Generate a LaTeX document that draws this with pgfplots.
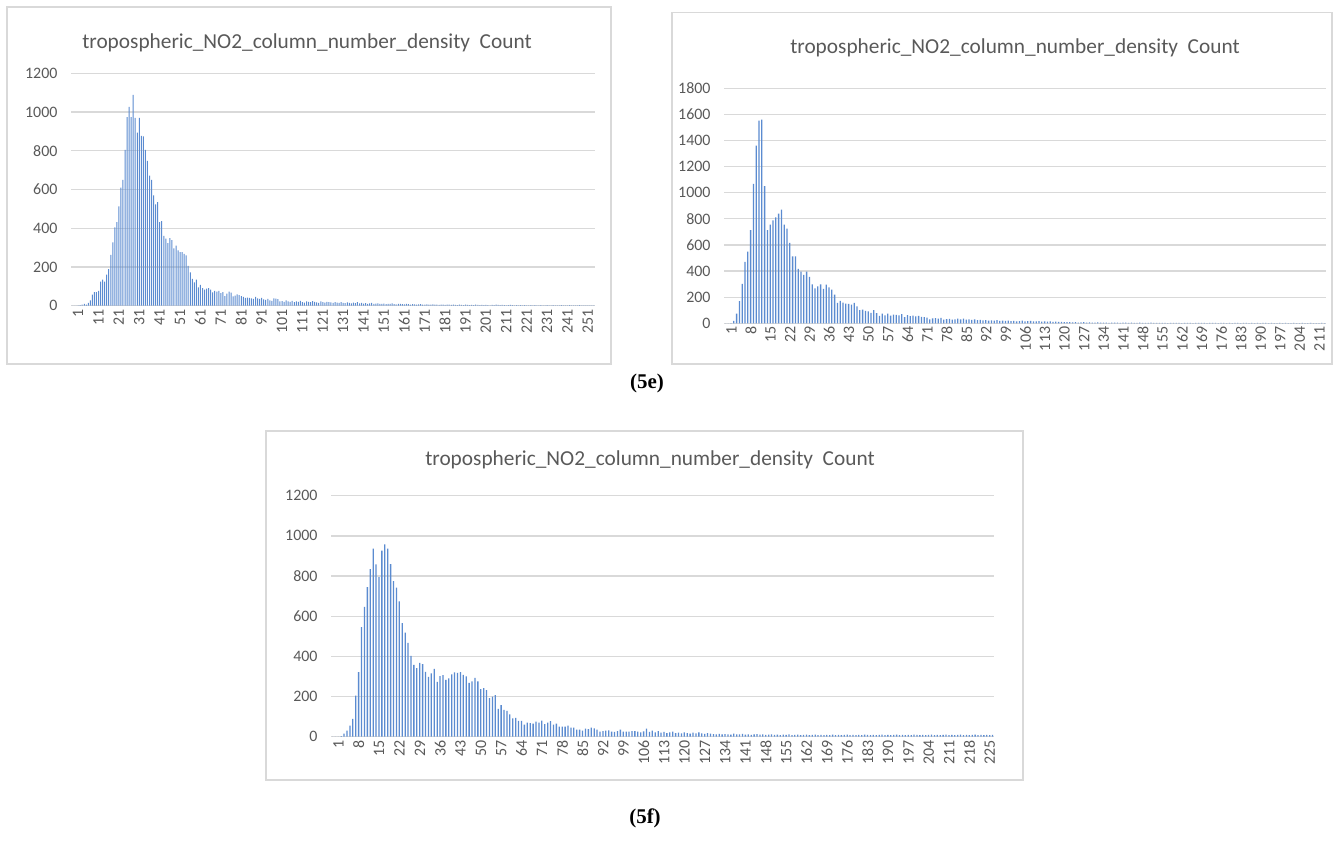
\documentclass[border=0pt]{standalone}
\usepackage{pgfplots}
\pgfplotsset{compat=1.18}
\usepackage{pgfplotstable}
\usepackage{fontspec}
\setmainfont{Carlito}
\newfontfamily\capfont{Liberation Serif}
\definecolor{txt}{HTML}{595959}
\definecolor{grd}{HTML}{D9D9D9}
\definecolor{barc}{HTML}{5B8BD0}

% Panel 1 (257 categories)
\pgfplotstableread[row sep=\\]{y\\
0\\0\\0\\2\\3\\5\\9\\5\\14\\27\\57\\70\\70\\77\\124\\134\\124\\160\\189\\263\\
327\\404\\432\\513\\609\\650\\805\\974\\1027\\974\\1089\\970\\893\\970\\877\\874\\805\\748\\672\\650\\
569\\523\\535\\432\\437\\361\\346\\323\\349\\339\\296\\310\\286\\277\\277\\267\\260\\206\\172\\139\\
120\\134\\95\\107\\91\\83\\88\\91\\83\\69\\77\\72\\77\\
65\\70\\50\\62\\72\\68\\48\\52\\58\\55\\50\\45\\40\\42\\40\\38\\35\\
46\\38\\35\\40\\32\\30\\35\\28\\25\\38\\36\\34\\22\\24\\20\\28\\22\\20\\25\\18\\
22\\20\\25\\18\\16\\22\\20\\18\\24\\20\\17\\15\\22\\19\\16\\20\\18\\17\\15\\19\\
16\\14\\18\\15\\13\\17\\14\\12\\16\\13\\18\\12\\14\\11\\13\\10\\12\\14\\9\\11\\
12\\10\\9\\11\\8\\10\\9\\12\\8\\7\\10\\9\\8\\7\\9\\8\\6\\8\\7\\6\\
7\\8\\6\\5\\7\\6\\5\\7\\6\\5\\4\\6\\5\\4\\5\\6\\4\\5\\4\\3\\
5\\4\\3\\5\\4\\3\\4\\3\\5\\4\\3\\4\\3\\4\\3\\2\\4\\3\\5\\4\\
3\\4\\3\\2\\3\\4\\3\\2\\3\\2\\3\\2\\3\\2\\2\\3\\2\\3\\2\\2\\
3\\2\\2\\3\\2\\2\\3\\2\\2\\2\\3\\2\\2\\2\\3\\2\\2\\2\\2\\3\\2\\2\\2\\2\\2\\2\\2\\
}\dataA

% Panel 2 (215 categories)
\pgfplotstableread[row sep=\\]{y\\
0\\0\\2\\18\\74\\169\\301\\470\\549\\713\\1068\\1361\\1553\\1560\\1050\\713\\756\\789\\812\\840\\
871\\756\\725\\615\\513\\513\\416\\396\\370\\396\\355\\299\\268\\283\\299\\263\\296\\276\\258\\220\\
156\\171\\158\\151\\148\\143\\156\\130\\100\\105\\95\\92\\79\\100\\77\\56\\74\\61\\74\\59\\
66\\64\\61\\
70\\48\\62\\55\\58\\52\\56\\50\\48\\44\\30\\38\\40\\36\\42\\28\\32\\
34\\28\\30\\35\\30\\36\\28\\30\\26\\30\\24\\26\\22\\25\\20\\23\\21\\24\\18\\20\\
18\\20\\16\\19\\15\\17\\20\\14\\16\\18\\14\\15\\17\\13\\14\\12\\15\\11\\13\\10\\
10\\9\\8\\9\\7\\8\\6\\7\\8\\6\\7\\5\\6\\7\\5\\6\\5\\4\\6\\5\\
5\\4\\6\\5\\4\\5\\4\\3\\5\\4\\3\\4\\5\\3\\4\\3\\4\\3\\2\\4\\
3\\4\\3\\2\\3\\4\\3\\2\\3\\4\\3\\3\\2\\3\\4\\3\\2\\3\\3\\2\\
3\\2\\3\\3\\2\\4\\3\\2\\3\\2\\3\\2\\3\\3\\2\\3\\2\\2\\3\\2\\
3\\2\\2\\3\\2\\2\\3\\2\\2\\3\\2\\2\\2\\3\\2\\
}\dataB

% Panel 3 (228 categories)
\pgfplotstableread[row sep=\\]{y\\
0\\0\\0\\3\\15\\30\\55\\89\\205\\321\\546\\647\\745\\834\\937\\858\\795\\927\\957\\937\\
859\\775\\742\\674\\565\\518\\467\\402\\358\\341\\368\\361\\323\\298\\315\\338\\273\\301\\306\\283\\
291\\310\\320\\318\\321\\308\\300\\268\\275\\293\\276\\237\\242\\232\\192\\199\\207\\139\\157\\134\\
129\\111\\91\\94\\79\\79\\60\\70\\
68\\65\\75\\70\\80\\62\\70\\78\\60\\65\\50\\50\\50\\55\\45\\45\\35\\35\\30\\40\\38\\45\\
42\\35\\25\\28\\30\\32\\25\\24\\28\\35\\25\\25\\25\\28\\28\\25\\22\\26\\40\\24\\
30\\22\\28\\20\\24\\18\\22\\25\\18\\20\\16\\22\\18\\15\\20\\17\\22\\16\\14\\18\\
15\\13\\12\\14\\11\\13\\12\\10\\15\\12\\11\\14\\10\\12\\9\\11\\13\\10\\12\\9\\
10\\11\\9\\10\\8\\10\\9\\11\\8\\9\\10\\8\\9\\10\\8\\9\\10\\8\\9\\8\\
9\\8\\10\\8\\9\\8\\9\\10\\8\\9\\8\\9\\8\\10\\9\\8\\9\\8\\9\\10\\
8\\9\\8\\9\\10\\8\\9\\8\\9\\8\\10\\9\\8\\9\\8\\9\\10\\8\\9\\8\\
9\\10\\8\\9\\8\\9\\10\\8\\9\\8\\9\\10\\8\\9\\8\\9\\8\\9\\
}\dataC

\pgfplotsset{hist/.style={
  scale only axis, anchor=south west,
  ybar, bar shift=0pt, ymin=0,
  axis line style={draw=none},
  ymajorgrids, grid style={grd, line width=1.3bp},
  major tick length=0pt,
  tick label style={font=\fontsize{16}{16}\selectfont, text=txt},
  xticklabel style={rotate=90, anchor=east, yshift=-6bp},
  yticklabel style={xshift=-10bp},
  /pgf/number format/assume math mode=true,
  /pgf/number format/1000 sep={},
}}

\begin{document}
\begin{tikzpicture}[x=1bp,y=1bp]
\useasboundingbox (0,0) rectangle (1343,850);
% chart frames
\draw[grd, line width=1.3bp] (7,486) rectangle (611,843);
\draw[grd, line width=1.3bp] (672,486) rectangle (1332,837.3);
\draw[grd, line width=1.3bp] (266,70) rectangle (1023,419);

% Panel 1
\begin{axis}[hist, at={(71bp,544.3bp)}, width=524bp, height=232.4bp,
  xmin=0.5, xmax=257.5, ymax=1200, ytick={0,200,...,1200},
  xtick={1,11,...,251}, bar width=1bp]
\addplot[fill=barc, draw=none] table[x expr=\coordindex+1, y=y] {\dataA};
\end{axis}
\node[text=txt, font=\fontsize{21.4}{22}\selectfont] at (307,807) {tropospheric\_NO2\_column\_number\_density\ \ Count};

% Panel 2
\begin{axis}[hist, at={(724bp,526.7bp)}, width=602bp, height=235bp,
  xmin=0.5, xmax=215.5, ymax=1800, ytick={0,200,...,1800},
  xtick={1,8,...,211}, bar width=1.3bp]
\addplot[fill=barc, draw=none] table[x expr=\coordindex+1, y=y] {\dataB};
\end{axis}
\node[text=txt, font=\fontsize{21.4}{22}\selectfont] at (1015,802) {tropospheric\_NO2\_column\_number\_density\ \ Count};

% Panel 3
\begin{axis}[hist, at={(331bp,113.3bp)}, width=663bp, height=241bp,
  xmin=0.5, xmax=228.5, ymax=1200, ytick={0,200,...,1200},
  xtick={1,8,...,225}, bar width=1.3bp]
\addplot[fill=barc, draw=none] table[x expr=\coordindex+1, y=y] {\dataC};
\end{axis}
\node[text=txt, font=\fontsize{21.4}{22}\selectfont] at (650,390) {tropospheric\_NO2\_column\_number\_density\ \ Count};

\node[font=\capfont\bfseries\fontsize{21}{21}\selectfont] at (647,467) {(5e)};
\node[font=\capfont\bfseries\fontsize{21}{21}\selectfont] at (645,32) {(5f)};
\end{tikzpicture}
\end{document}
